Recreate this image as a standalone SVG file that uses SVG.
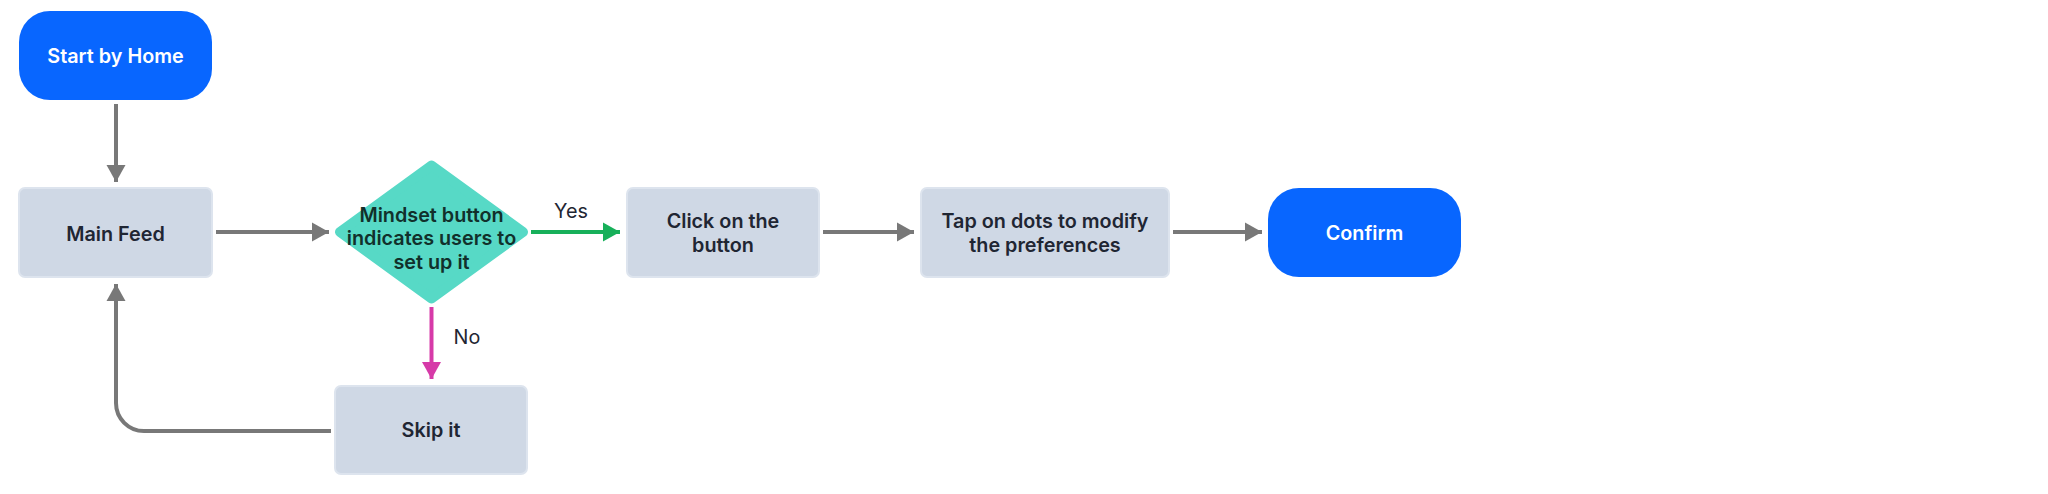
<svg xmlns="http://www.w3.org/2000/svg" width="2048" height="494" viewBox="0 0 2048 494">
<style>
.term{fill:#0866ff}
.proc{fill:#cfd8e5;stroke:#dde4ee;stroke-width:2}
.dec{fill:#57d9c6;stroke:#57d9c6;stroke-width:10;stroke-linejoin:round}
.t{font-family:Inter,"Liberation Sans",sans-serif;font-size:19.8px;font-weight:600;text-anchor:middle}
.tw{fill:#ffffff}
.td{fill:#1f2633}
.tdd{fill:#11302b}
.lbl{font-family:Inter,"Liberation Sans",sans-serif;font-size:19.8px;font-weight:400;fill:#1f2633;text-anchor:middle}
.c{fill:none;stroke-width:4}
.g{stroke:#787878}
.y{stroke:#17b05a}
.n{stroke:#d63aa8}
</style>
<defs>
<marker id="ag" markerUnits="userSpaceOnUse" markerWidth="18" markerHeight="20" refX="17" refY="10" orient="auto"><path d="M0,0.5 L17,10 L0,19.5 z" fill="#787878"/></marker>
<marker id="ay" markerUnits="userSpaceOnUse" markerWidth="18" markerHeight="20" refX="17" refY="10" orient="auto"><path d="M0,0.5 L17,10 L0,19.5 z" fill="#17b05a"/></marker>
<marker id="an" markerUnits="userSpaceOnUse" markerWidth="18" markerHeight="20" refX="17" refY="10" orient="auto"><path d="M0,0.5 L17,10 L0,19.5 z" fill="#d63aa8"/></marker>
</defs>
<rect width="2048" height="494" fill="#ffffff"/>
<g id="connectors">
<path class="c g" d="M116,104 L116,182" marker-end="url(#ag)"/>
<path class="c g" d="M216,232 L329,232" marker-end="url(#ag)"/>
<path class="c y" d="M531,232 L620,232" marker-end="url(#ay)"/>
<path class="c g" d="M823,232 L914,232" marker-end="url(#ag)"/>
<path class="c g" d="M1173,232 L1262,232" marker-end="url(#ag)"/>
<path class="c n" d="M431.5,307 L431.5,379" marker-end="url(#an)"/>
<path class="c g" d="M331,431 L144,431 A28,28 0 0 1 116,403 L116,284" marker-end="url(#ag)"/>
<text class="lbl" x="571" y="218">Yes</text>
<text class="lbl" x="467" y="344">No</text>
</g>
<g id="start">
<rect class="term" x="19" y="11" width="193" height="89" rx="31"/>
<text class="t tw" x="115.5" y="63">Start by Home</text>
</g>
<g id="mainfeed">
<rect class="proc" x="19" y="188" width="193" height="89" rx="6"/>
<text class="t td" x="115.5" y="240.5">Main Feed</text>
</g>
<g id="decision">
<polygon class="dec" points="340,232 431.5,165.5 523,232 431.5,298.5"/>
<text class="t tdd" x="431.5" y="221.5">Mindset button</text>
<text class="t tdd" x="431.5" y="245">indicates users to</text>
<text class="t tdd" x="431.5" y="268.5">set up it</text>
</g>
<g id="click">
<rect class="proc" x="627" y="188" width="192" height="89" rx="6"/>
<text class="t td" x="723" y="228">Click on the</text>
<text class="t td" x="723" y="252">button</text>
</g>
<g id="tap">
<rect class="proc" x="921" y="188" width="248" height="89" rx="6"/>
<text class="t td" x="1045" y="228">Tap on dots to modify</text>
<text class="t td" x="1045" y="252">the preferences</text>
</g>
<g id="confirm">
<rect class="term" x="1268" y="188" width="193" height="89" rx="31"/>
<text class="t tw" x="1364.5" y="240">Confirm</text>
</g>
<g id="skip">
<rect class="proc" x="335" y="386" width="192" height="88" rx="6"/>
<text class="t td" x="431" y="437">Skip it</text>
</g>
</svg>
